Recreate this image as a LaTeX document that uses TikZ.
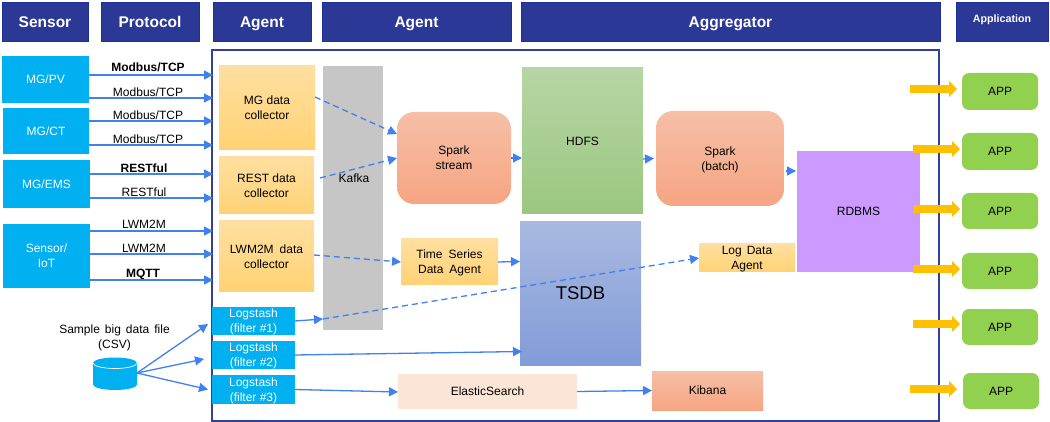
\documentclass[tikz,border=0pt]{standalone}
\usepackage{fontspec}
\setmainfont{Liberation Sans}
\usetikzlibrary{arrows.meta}
\definecolor{headbg}{HTML}{2B3896}
\definecolor{headline}{HTML}{1C2F9C}
\definecolor{framec}{HTML}{2F4199}
\definecolor{sensorc}{HTML}{00B0F0}
\definecolor{arrowc}{HTML}{4080F0}
\definecolor{yarrow}{HTML}{FFC000}
\definecolor{agenttop}{HTML}{FFDFA0}
\definecolor{agentbot}{HTML}{FFD274}
\definecolor{sparktop}{HTML}{F6BFA6}
\definecolor{sparkbot}{HTML}{F6A582}
\definecolor{hdfstop}{HTML}{B6D5A5}
\definecolor{hdfsbot}{HTML}{9BC77F}
\definecolor{tsdbtop}{HTML}{A9B9E0}
\definecolor{tsdbbot}{HTML}{829CD8}
\definecolor{kafkac}{HTML}{C6C6C6}
\definecolor{rdbmsc}{HTML}{CC99FF}
\definecolor{elasticc}{HTML}{FBE5D6}
\definecolor{appc}{HTML}{92D050}

\begin{document}
\begin{tikzpicture}[
  x=1pt,y=-1pt,
  font=\fontsize{12}{15}\selectfont,
  sz/.style 2 args={minimum width=#1pt,minimum height=#2pt},
  wordgap/.style={execute at begin node={\spaceskip=#1\relax}},
  box/.style={inner sep=0pt,outer sep=0pt,align=center,text depth=0pt},
  header/.style={box,draw=headline,fill=headbg,line width=0.8pt,text=white,text height=14pt,text depth=2.4pt,font=\fontsize{15.5}{18}\selectfont\bfseries},
  frame/.style={box,draw=framec,line width=1.5pt},
  sensor/.style={box,fill=sensorc,text=white},
  agent/.style={box,top color=agenttop,bottom color=agentbot},
  spark/.style={box,top color=sparktop,bottom color=sparkbot,rounded corners=17pt},
  app/.style={box,fill=appc,rounded corners=7pt},
  proto/.style={box,font=\fontsize{12}{14}\selectfont},
  boldproto/.style={proto,font=\fontsize{12}{14}\selectfont\bfseries},
  arr/.style={-{Triangle[length=9pt,width=9pt]},color=arrowc,line width=1.3pt},
  dasharr/.style={arr,dash pattern=on 6pt off 4pt},
  yarr/.style={-{Triangle[length=8pt,width=16pt]},color=yarrow,line width=8pt,shorten >=2pt}]
  \useasboundingbox (0,0) rectangle (1050,422);
  % column headers
  \node[header,sz={86}{39}] (hsensor) at (45,21.5) {Sensor};
  \node[header,sz={98}{39}] (hproto) at (150,21.5) {Protocol};
  \node[header,sz={98}{39}] (hagent) at (262,21.5) {Agent};
  \node[header,sz={189}{39}] (hagent2) at (416.5,21.5) {Agent};
  \node[header,sz={419}{39}] (haggr) at (730.5,21.5) {Aggregator};
  \node[header,sz={92}{39},text height=6pt,text depth=3.6pt,font=\fontsize{10.7}{13}\selectfont\bfseries] (happ) at (1002,21.5) {Application};
  \node[frame,sz={727}{371}] (frame) at (575.5,235.5) {};
  % sensors
  \node[sensor,sz={87}{47}] (mgpv) at (45.5,79.5) {MG/PV};
  \node[sensor,sz={86}{46}] (mgct) at (46,131) {MG/CT};
  \node[sensor,sz={87}{48}] (mgems) at (46.5,184) {MG/EMS};
  \node[sensor,sz={87}{64}] (iot) at (46.5,256) {Sensor/\\IoT};
  % protocols
  \node[boldproto] (p1) at (148,67) {Modbus/TCP};
  \node[proto] (p2) at (148,92) {Modbus/TCP};
  \node[proto] (p3) at (148,115) {Modbus/TCP};
  \node[proto] (p4) at (148,139) {Modbus/TCP};
  \node[boldproto] (p5) at (144,168) {RESTful};
  \node[proto] (p6) at (144,192) {RESTful};
  \node[proto] (p7) at (144,224) {LWM2M};
  \node[proto] (p8) at (144,248) {LWM2M};
  \node[boldproto] (p9) at (143,273) {MQTT};
  \coordinate (in1) at (213,75);
  \coordinate (in2) at (213,98);
  \coordinate (in3) at (213,121);
  \coordinate (in4) at (213,145);
  \coordinate (in5) at (213,174);
  \coordinate (in6) at (213,198);
  \coordinate (in7) at (213,231);
  \coordinate (in8) at (213,254);
  \coordinate (in9) at (213,280);
  % csv file
  \node[box,wordgap=5pt] (csvlabel) at (114.5,336.5) {Sample big data file\\(CSV)};
  \fill[sensorc] (93,363) -- (93,384.5) arc[start angle=180,end angle=360,x radius=22pt,y radius=5.5pt] -- (137,363) arc[start angle=0,end angle=180,x radius=22pt,y radius=5.5pt] -- cycle;
  \draw[white,line width=0.7pt] (93,363) arc[start angle=180,end angle=360,x radius=22pt,y radius=5.5pt];
  \coordinate (csvout) at (137,373);
  % collectors
  \node[agent,sz={96}{84}] (colmg) at (267,108) {MG data\\collector};
  \node[agent,sz={95}{57}] (colrest) at (266.5,185.5) {REST data\\collector};
  \node[agent,wordgap=6pt,sz={95}{71}] (collwm) at (266.5,256.5) {LWM2M data\\collector};
  \node[sensor,sz={83}{28}] (log1) at (253.5,321) {Logstash\\(filter \#1)};
  \node[sensor,sz={83}{28}] (log2) at (253.5,355) {Logstash\\(filter \#2)};
  \node[sensor,sz={83}{29}] (log3) at (253.5,389.5) {Logstash\\(filter \#3)};
  \node[box,fill=kafkac,sz={60}{264}] (kafka) at (353,198) {};
  \coordinate (logmid) at (323,319);
  % storage and processing
  \node[spark,sz={114}{92}] (stream) at (454,158) {Spark\\stream};
  \node[box,top color=hdfstop,bottom color=hdfsbot,sz={121}{146}] (hdfs) at (582.5,141) {HDFS};
  \node[spark,sz={128}{95}] (batch) at (720,158.5) {Spark\\(batch)};
  \node[box,fill=rdbmsc,sz={123}{121}] (rdbms) at (858.5,211.5) {RDBMS};
  \node[agent,wordgap=6pt,sz={97}{46}] (tsagent) at (449.5,262) {Time Series\\Data Agent};
  \node[box,top color=tsdbtop,bottom color=tsdbbot,sz={121}{143},font=\fontsize{18.5}{22}\selectfont] (tsdb) at (580.5,293.5) {TSDB};
  \node[agent,wordgap=5pt,sz={96}{28}] (logagent) at (747,258) {Log Data\\Agent};
  \node[box,fill=elasticc,sz={179}{35}] (elastic) at (487.5,391.5) {ElasticSearch};
  \node[box,top color=sparktop,bottom color=sparkbot,sz={111}{39}] (kibana) at (707.5,390.5) {Kibana};
  % applications
  \node[app,sz={76}{37}] (app1) at (1000,91.5) {APP};
  \node[app,sz={76}{37}] (app2) at (1000,151.5) {APP};
  \node[app,sz={76}{36}] (app3) at (1000,211) {APP};
  \node[app,sz={76}{36}] (app4) at (1000,271) {APP};
  \node[app,sz={76}{36}] (app5) at (1000,327) {APP};
  \node[app,sz={76}{36}] (app6) at (1001,391) {APP};
  \coordinate (ya1) at (910,89);
  \coordinate (ya2) at (913,149);
  \coordinate (ya3) at (913,209);
  \coordinate (ya4) at (913,269);
  \coordinate (ya5) at (913,324);
  \coordinate (ya6) at (910,389);
  % sensor arrows
  \draw[arr] (in1 -| mgpv.east) -- (in1);
  \draw[arr] (in2 -| mgpv.east) -- (in2);
  \draw[arr] (in3 -| mgct.east) -- (in3);
  \draw[arr] (in4 -| mgct.east) -- (in4);
  \draw[arr] (in5 -| mgems.east) -- (in5);
  \draw[arr] (in6 -| mgems.east) -- (in6);
  \draw[arr] (in7 -| iot.east) -- (in7);
  \draw[arr] (in8 -| iot.east) -- (in8);
  \draw[arr] (in9 -| iot.east) -- (in9);
  \draw[arr] (csvout) -- ([xshift=-4pt,yshift=-3pt]log1.west);
  \draw[arr] (csvout) -- ([xshift=-8pt,yshift=-4pt]log2.west);
  \draw[arr] (csvout) -- ([xshift=-4pt]log3.west);
  % pipeline arrows
  \draw[dasharr] ([yshift=11pt]colmg.east) -- ([yshift=24pt]stream.west);
  \draw[dasharr] ([xshift=6pt,yshift=7.5pt]colrest.east) -- (stream.west);
  \draw[dasharr] ([yshift=1.5pt]collwm.east) -- (tsagent.west);
  \draw[arr] (log1.east) -- (logmid);
  \draw[dasharr] (logmid) -- (logagent.west);
  \draw[arr] (log2.east) -- ([xshift=2pt,yshift=-58pt]tsdb.west);
  \draw[arr] (log3.east) -- ([yshift=-0.5pt]elastic.west);
  \draw[arr] (tsagent.east) -- ([yshift=32pt]tsdb.west);
  \draw[arr] (elastic.east) -- (kibana.west);
  \draw[arr] (stream.east) -- (stream.east -| hdfs.west);
  \draw[arr] ([yshift=-18pt]hdfs.east) -- ([xshift=-2pt]batch.west);
  \draw[arr] ([xshift=2pt,yshift=-12.5pt]batch.east) -- ([xshift=-1pt,yshift=40.5pt]rdbms.west);
  \node[box] (kafkalabel) at (354,178) {Kafka};
  % output arrows
  \draw[yarr,shorten >=5pt] (ya1) -- (ya1 -| app1.west);
  \draw[yarr] (ya2) -- (ya2 -| app2.west);
  \draw[yarr] (ya3) -- (ya3 -| app3.west);
  \draw[yarr] (ya4) -- (ya4 -| app4.west);
  \draw[yarr] (ya5) -- (ya5 -| app5.west);
  \draw[yarr,shorten >=6pt] (ya6) -- (ya6 -| app6.west);
\end{tikzpicture}
\end{document}
